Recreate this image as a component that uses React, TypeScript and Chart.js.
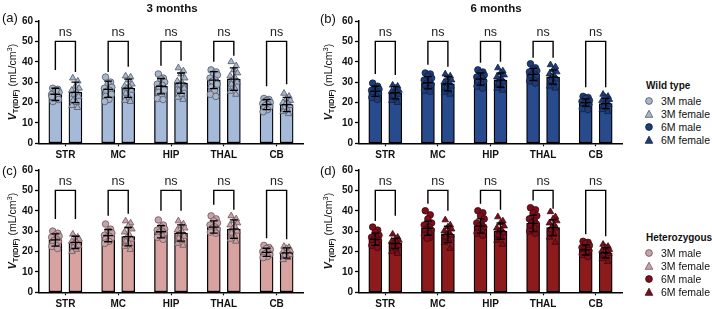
import React, { useEffect, useRef } from 'react';
import { Chart, registerables } from 'chart.js';

Chart.register(...registerables);

const FONT = '"Liberation Sans", Arial, Helvetica, sans-serif';

const REGIONS = ['STR', 'MC', 'HIP', 'THAL', 'CB'];
const Y_TICKS = [0, 10, 20, 30, 40, 50, 60];
const BRACKET_LEVEL = 50;
const NS_LEVEL = 54.5;

// (a) Wild type, 3 months
const A_MALE_MEAN = [24, 26.5, 28, 31, 19];
const A_MALE_SD = [3, 4, 3.8, 4.2, 2.5];
const A_FEMALE_MEAN = [25, 27, 29.5, 31.5, 19];
const A_FEMALE_SD = [5, 4.5, 5, 5.5, 3.5];
const A_MALE_POINTS = [
  [27, 26.5, 25.5, 25, 24, 23.5, 22, 21.5, 20.5, 26, 23],
  [32.5, 30, 29, 27.5, 27, 26, 25.5, 24, 23, 21.5, 20.5],
  [34, 32, 31.5, 30, 29, 28.5, 27, 26, 25, 23.5, 22, 21.5],
  [36, 35, 34, 33.5, 32, 31, 30.5, 29, 27.5, 26, 24, 23],
  [22, 21.5, 21, 20, 19.5, 19, 18.5, 18, 17, 16.5, 15.5],
];
const A_FEMALE_POINTS = [
  [32, 30.5, 28, 27, 26, 25, 24, 23, 21, 20, 18.5, 17.5],
  [33, 32.5, 31, 29, 28, 27.5, 27, 26, 24.5, 22.5, 21, 20.5],
  [37, 35.5, 34, 32, 30.5, 29.5, 28.5, 27, 26, 24, 22.5, 21.5],
  [40, 38, 36, 34.5, 33, 32, 31, 30, 29, 27, 25.5, 24],
  [24.5, 23, 22, 21, 20, 19.5, 19, 18.5, 17.5, 16.5, 15.5, 14.5],
];
const A_BRACKET_LEFT = [36, 35, 38, 40, 28];
const A_BRACKET_RIGHT = [35, 37.5, 40.5, 43, 29];

// (b) Wild type, 6 months
const B_MALE_MEAN = [25.5, 29.7, 31.5, 33.8, 20];
const B_MALE_SD = [2.5, 3, 3, 3, 1.8];
const B_FEMALE_MEAN = [24.8, 29.2, 31, 32.5, 19.5];
const B_FEMALE_SD = [3, 3.5, 3.5, 3.5, 2.5];
const B_MALE_POINTS = [
  [29.5, 28, 27, 26.5, 26, 25.5, 25, 24.5, 24, 23, 22.5, 21.5],
  [34.5, 34, 33, 32, 31, 30, 29.5, 29, 28, 27, 26, 25.5],
  [36, 35, 34.5, 33.5, 32.5, 32, 31, 30.5, 30, 29, 28, 27],
  [39, 37, 36.5, 35.5, 35, 34, 33.5, 33, 32, 31, 30.5, 29.5],
  [23, 22.5, 22, 21, 20.5, 20, 19.5, 19, 18.5, 18, 17, 16.5],
];
const B_FEMALE_POINTS = [
  [28.5, 28, 27, 26, 25.5, 25, 24.5, 24, 23, 22, 21, 20],
  [34, 33, 32, 31, 30, 29.5, 29, 28, 27, 26, 25, 24],
  [37, 35.5, 34.5, 33.5, 32.5, 31.5, 31, 30, 29, 28, 27, 26],
  [38.5, 37.5, 36, 35, 34, 33, 32.5, 31.5, 30.5, 29.5, 28, 27],
  [24, 23, 22.5, 21.5, 21, 20, 19.5, 19, 18, 17, 16.5, 15.5],
];
const B_BRACKET_LEFT = [34, 38.5, 39.5, 42, 27.5];
const B_BRACKET_RIGHT = [33.5, 37.5, 40, 42, 27.5];

// (c) Heterozygous, 3 months
const C_MALE_MEAN = [25.7, 27.8, 29.7, 32, 19.6];
const C_MALE_SD = [3, 3, 3, 3, 2];
const C_FEMALE_MEAN = [24.5, 27.3, 29.1, 31, 19.3];
const C_FEMALE_SD = [3, 4.5, 4, 4.5, 2.5];
const C_MALE_POINTS = [
  [30, 29, 28, 27.5, 27, 26, 25.5, 25, 24, 23, 22.5, 21.5],
  [33.5, 31, 30, 29, 28, 27.5, 27, 26.5, 26, 25, 24],
  [35.5, 33, 32, 31, 30.5, 30, 29.5, 29, 28, 27.5, 27, 26],
  [37.5, 36, 35, 34, 33, 32, 31.5, 31, 30.5, 30, 29.5, 29],
  [23, 22, 21.5, 21, 20, 19.5, 19, 18.5, 18, 17.5, 17],
];
const C_FEMALE_POINTS = [
  [28.5, 27, 26.5, 26, 25, 24.5, 24, 23, 22, 21, 20],
  [35, 34, 32.5, 31, 29.5, 28, 27, 26, 25, 24, 22.5, 21],
  [35, 33.5, 32.5, 31.5, 30.5, 29.5, 28.5, 27.5, 26.5, 25.5, 24, 23],
  [37.5, 36, 35, 34, 33, 32, 31, 30, 29, 27.5, 26, 25],
  [22.5, 22, 21.5, 20.5, 20, 19.5, 19, 18.5, 18, 17, 16],
];
const C_BRACKET_LEFT = [36, 37.5, 40, 43, 26.5];
const C_BRACKET_RIGHT = [36, 38.5, 40, 40.5, 26];

// (d) Heterozygous, 6 months
const D_MALE_MEAN = [26, 31.4, 32.5, 33.8, 20.8];
const D_MALE_SD = [3, 3.5, 3.5, 4, 2.5];
const D_FEMALE_MEAN = [24, 28.4, 30, 31.7, 19.4];
const D_FEMALE_SD = [2.5, 4, 4, 4, 2.5];
const D_MALE_POINTS = [
  [32, 30.5, 29.5, 28, 27, 26.5, 26, 25.5, 25, 24, 23, 22],
  [40, 38, 36, 34, 33, 32, 31, 30.5, 30, 29, 28, 27, 26.5],
  [40, 39, 37.5, 36, 34, 33, 32.5, 32, 31, 30, 29, 28],
  [41.5, 40.5, 39, 37.5, 36, 35, 34, 33.5, 32.5, 31.5, 30, 29],
  [25, 24.5, 24, 23, 22, 21.5, 21, 20.5, 20, 19, 18.5, 17.5],
];
const D_FEMALE_POINTS = [
  [28.5, 27, 26, 25.5, 25, 24.5, 24, 23, 22, 21, 20, 19],
  [35.5, 33, 32, 31, 30, 29, 28.5, 28, 27, 26, 24.5, 21.5],
  [37, 35, 34, 32.5, 31.5, 30.5, 30, 29, 28, 27, 25.5, 23.5],
  [39.5, 37, 36, 35, 34, 33, 32, 31.5, 30.5, 29, 27, 24.5],
  [23.5, 22.5, 22, 21, 20.5, 20, 19.5, 19, 18.5, 17.5, 16.5, 15],
];
const D_BRACKET_LEFT = [35, 43.5, 43.5, 45, 28.5];
const D_BRACKET_RIGHT = [37.5, 40, 40.5, 41, 27.5];

// layout / style constants
const BAR_OFFSET = 0.19;
const JITTER = [-0.05, 0.045, 0, 0.07, -0.07, 0.025, -0.025, 0.06, -0.045, 0.015, -0.065, 0.04, -0.015];

const STYLE = {
  wt3: { bar: '#a5bad9', fill: '#aab5c7', stroke: '#4f5869' },
  wt6: { bar: '#284b8d', fill: '#1f3c74', stroke: '#0f2147' },
  het3: { bar: '#d7a29f', fill: '#c9a1a8', stroke: '#6a585c' },
  het6: { bar: '#8e1b1c', fill: '#7b0f1d', stroke: '#3f070d' },
};

type PanelProps = {
  left: number;
  top: number;
  padRight: number;
  style: { bar: string; fill: string; stroke: string };
  maleMean: number[];
  maleSD: number[];
  femaleMean: number[];
  femaleSD: number[];
  malePoints: number[][];
  femalePoints: number[][];
  bracketLeft: number[];
  bracketRight: number[];
};

const CANVAS_W = 312;
const CANVAS_H = 160;
const PLOT_TOP = 21;
const PLOT_BOTTOM = 143.3;
const Y_AXIS_W = 39;

function Panel(p: PanelProps) {
  const ref = useRef<HTMLCanvasElement | null>(null);
  useEffect(() => {
    if (!ref.current) return;
    const pts = (arr: number[][], side: number) =>
      arr.flatMap((vals, i) =>
        vals.map((v, j) => ({ x: i + side * BAR_OFFSET + JITTER[j % JITTER.length], y: v }))
      );
    const overlay = {
      id: 'overlay',
      afterDatasetsDraw(chart: any) {
        const { ctx, scales } = chart;
        const x = scales.x;
        const y = scales.y;
        ctx.save();
        ctx.strokeStyle = '#000';
        ctx.lineWidth = 1.3;
        const groups = [
          { side: -1, mean: p.maleMean, sd: p.maleSD },
          { side: 1, mean: p.femaleMean, sd: p.femaleSD },
        ];
        groups.forEach((g) => {
          REGIONS.forEach((_, i) => {
            const xc = x.getPixelForValue(i + g.side * BAR_OFFSET);
            const yt = y.getPixelForValue(g.mean[i] + g.sd[i]);
            const yb = y.getPixelForValue(g.mean[i] - g.sd[i]);
            const ym = y.getPixelForValue(g.mean[i]);
            ctx.beginPath();
            ctx.moveTo(xc, yt);
            ctx.lineTo(xc, yb);
            ctx.moveTo(xc - 4, yt);
            ctx.lineTo(xc + 4, yt);
            ctx.moveTo(xc - 4, yb);
            ctx.lineTo(xc + 4, yb);
            ctx.moveTo(xc - 5, ym);
            ctx.lineTo(xc + 5, ym);
            ctx.stroke();
          });
        });
        ctx.lineWidth = 1.4;
        ctx.fillStyle = '#222';
        ctx.font = `12.5px ${FONT}`;
        ctx.textAlign = 'center';
        ctx.textBaseline = 'middle';
        REGIONS.forEach((_, i) => {
          const xl = x.getPixelForValue(i - BAR_OFFSET);
          const xr = x.getPixelForValue(i + BAR_OFFSET);
          const yTop = y.getPixelForValue(BRACKET_LEVEL);
          ctx.beginPath();
          ctx.moveTo(xl, y.getPixelForValue(p.bracketLeft[i]));
          ctx.lineTo(xl, yTop);
          ctx.lineTo(xr, yTop);
          ctx.lineTo(xr, y.getPixelForValue(p.bracketRight[i]));
          ctx.stroke();
          ctx.fillText('ns', (xl + xr) / 2, y.getPixelForValue(NS_LEVEL));
        });
        ctx.restore();
      },
    };
    const barDs = (mean: number[], side: number) => ({
      type: 'bar',
      data: REGIONS.map((_, i) => ({ x: i + side * BAR_OFFSET, y: mean[i] })),
      backgroundColor: p.style.bar,
      borderColor: '#000',
      borderWidth: 1.3,
      borderSkipped: false,
      barThickness: 13,
      grouped: false,
      order: 3,
    });
    const ptDs = (arr: number[][], side: number, shape: string) => ({
      type: 'scatter',
      data: pts(arr, side),
      pointStyle: shape,
      pointRadius: shape === 'circle' ? 3.3 : 3.8,
      backgroundColor: p.style.fill,
      borderColor: p.style.stroke,
      borderWidth: 0.8,
      order: 1,
    });
    const tickFont = { family: FONT, size: 10, weight: 'bold' };
    const chart = new Chart(ref.current, {
      type: 'bar',
      data: {
        datasets: [
          ptDs(p.malePoints, -1, 'circle'),
          ptDs(p.femalePoints, 1, 'triangle'),
          barDs(p.maleMean, -1),
          barDs(p.femaleMean, 1),
        ] as any,
      },
      options: {
        animation: false,
        responsive: false,
        maintainAspectRatio: false,
        events: [],
        layout: { padding: { top: PLOT_TOP, right: p.padRight, bottom: 0, left: 0 } },
        plugins: { legend: { display: false }, tooltip: { enabled: false } },
        scales: {
          x: {
            type: 'linear',
            offset: false,
            min: -0.5,
            max: 4.5,
            afterBuildTicks: (s: any) => {
              s.ticks = REGIONS.map((_, i) => ({ value: i }));
            },
            afterFit: (s: any) => {
              s.height = CANVAS_H - PLOT_BOTTOM;
            },
            ticks: {
              callback: (v: any) => REGIONS[Math.round(v)] ?? '',
              font: tickFont,
              color: '#111',
              padding: 3,
              maxRotation: 0,
              autoSkip: false,
            },
            grid: { offset: false, drawOnChartArea: false, drawTicks: true, tickLength: 3, tickColor: '#000', tickWidth: 1.2 },
            border: { display: true, color: '#000', width: 1.5 },
          },
          y: {
            type: 'linear',
            min: 0,
            max: 60,
            afterBuildTicks: (s: any) => {
              s.ticks = Y_TICKS.map((v) => ({ value: v }));
            },
            afterFit: (s: any) => {
              s.width = Y_AXIS_W;
            },
            ticks: { font: tickFont, color: '#111', padding: 2 },
            grid: { drawOnChartArea: false, drawTicks: true, tickLength: 4, tickColor: '#000', tickWidth: 1.3 },
            border: { display: true, color: '#000', width: 1.5 },
          },
        },
      } as any,
      plugins: [overlay],
    });
    return () => chart.destroy();
  }, []);
  return (
    <canvas
      ref={ref}
      width={CANVAS_W}
      height={CANVAS_H}
      style={{ position: 'absolute', left: p.left, top: p.top, width: CANVAS_W, height: CANVAS_H }}
    />
  );
}

function YTitle({ x, y }: { x: number; y: number }) {
  return (
    <div
      style={{
        position: 'absolute',
        left: x,
        top: y,
        transform: 'translate(-50%, -50%) rotate(-90deg)',
        whiteSpace: 'nowrap',
        fontFamily: FONT,
        fontSize: 10.5,
        fontWeight: 'bold',
        color: '#111',
        lineHeight: '12px',
      }}
    >
      <i>V</i>
      <sub style={{ fontSize: 7.5, verticalAlign: '-2px', lineHeight: 0 }}>T(IDIF)</sub>
      <span style={{ fontWeight: 'normal' }}> (mL/cm</span>
      <sup style={{ fontSize: 7.5, verticalAlign: '4px', lineHeight: 0, fontWeight: 'normal' }}>3</sup>
      <span style={{ fontWeight: 'normal' }}>)</span>
    </div>
  );
}

function Label({ x, y, text, size, bold, center }: { x: number; y: number; text: string; size: number; bold?: boolean; center?: boolean }) {
  return (
    <div
      style={{
        position: 'absolute',
        left: x,
        top: y,
        transform: center ? 'translate(-50%, -50%)' : 'translate(0, -50%)',
        whiteSpace: 'nowrap',
        fontFamily: FONT,
        fontSize: size,
        fontWeight: bold ? 'bold' : 'normal',
        color: '#111',
        lineHeight: 1,
      }}
    >
      {text}
    </div>
  );
}

function Marker({ x, y, shape, fill, stroke }: { x: number; y: number; shape: string; fill: string; stroke: string }) {
  return (
    <svg width={10} height={10} style={{ position: 'absolute', left: x - 5, top: y - 5 }}>
      {shape === 'circle' ? (
        <circle cx={5} cy={5} r={3.4} fill={fill} stroke={stroke} strokeWidth={0.8} />
      ) : (
        <polygon points="5,1.2 8.8,8.3 1.2,8.3" fill={fill} stroke={stroke} strokeWidth={0.8} />
      )}
    </svg>
  );
}

const LEGEND_ITEMS = ['3M male', '3M female', '6M male', '6M female'];

function Legend({ top, title, s3, s6 }: { top: number; title: string; s3: any; s6: any }) {
  const rows = [13, 26, 39, 52];
  const styles = [s3, s3, s6, s6];
  const shapes = ['circle', 'triangle', 'circle', 'triangle'];
  return (
    <>
      <Label x={646} y={top} text={title} size={10} bold />
      {LEGEND_ITEMS.map((t, i) => (
        <React.Fragment key={t}>
          <Marker x={649} y={top + 2 + rows[i]} shape={shapes[i]} fill={styles[i].fill} stroke={styles[i].stroke} />
          <Label x={661} y={top + 2 + rows[i]} text={t} size={10.5} />
        </React.Fragment>
      ))}
    </>
  );
}

export default function App() {
  useEffect(() => {
    document.body.style.margin = '0';
  }, []);
  return (
    <div style={{ position: 'fixed', left: 0, top: 0, width: 712, height: 309, background: '#fff', overflow: 'hidden' }}>
      <Panel left={0} top={0} padRight={9} style={STYLE.wt3}
        maleMean={A_MALE_MEAN} maleSD={A_MALE_SD} femaleMean={A_FEMALE_MEAN} femaleSD={A_FEMALE_SD}
        malePoints={A_MALE_POINTS} femalePoints={A_FEMALE_POINTS} bracketLeft={A_BRACKET_LEFT} bracketRight={A_BRACKET_RIGHT} />
      <Panel left={320} top={0} padRight={10} style={STYLE.wt6}
        maleMean={B_MALE_MEAN} maleSD={B_MALE_SD} femaleMean={B_FEMALE_MEAN} femaleSD={B_FEMALE_SD}
        malePoints={B_MALE_POINTS} femalePoints={B_FEMALE_POINTS} bracketLeft={B_BRACKET_LEFT} bracketRight={B_BRACKET_RIGHT} />
      <Panel left={0} top={149} padRight={9} style={STYLE.het3}
        maleMean={C_MALE_MEAN} maleSD={C_MALE_SD} femaleMean={C_FEMALE_MEAN} femaleSD={C_FEMALE_SD}
        malePoints={C_MALE_POINTS} femalePoints={C_FEMALE_POINTS} bracketLeft={C_BRACKET_LEFT} bracketRight={C_BRACKET_RIGHT} />
      <Panel left={320} top={149} padRight={10} style={STYLE.het6}
        maleMean={D_MALE_MEAN} maleSD={D_MALE_SD} femaleMean={D_FEMALE_MEAN} femaleSD={D_FEMALE_SD}
        malePoints={D_MALE_POINTS} femalePoints={D_FEMALE_POINTS} bracketLeft={D_BRACKET_LEFT} bracketRight={D_BRACKET_RIGHT} />

      <Label x={172} y={9} text="3 months" size={11.5} bold center />
      <Label x={496} y={9} text="6 months" size={11.5} bold center />

      <Label x={2} y={17} text="(a)" size={13} />
      <Label x={320} y={18} text="(b)" size={13} />
      <Label x={2} y={170} text="(c)" size={13} />
      <Label x={320} y={170} text="(d)" size={13} />

      <YTitle x={12} y={82} />
      <YTitle x={328} y={82} />
      <YTitle x={12} y={231} />
      <YTitle x={328} y={231} />

      <Legend top={86} title="Wild type" s3={STYLE.wt3} s6={STYLE.wt6} />
      <Legend top={238} title="Heterozygous" s3={STYLE.het3} s6={STYLE.het6} />
    </div>
  );
}
